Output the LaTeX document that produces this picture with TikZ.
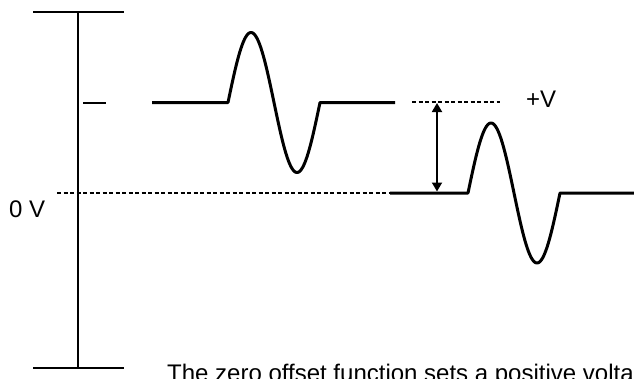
\documentclass[tikz,border=0pt]{standalone}
\usepackage{fontspec}
\setmainfont{Liberation Sans}
\usetikzlibrary{arrows.meta}

\begin{document}
\begin{tikzpicture}[
  x=1pt,y=-1pt,
  font=\fontsize{24}{28}\selectfont,
  axis/.style={line width=1.8pt},
  wave/.style={line width=3pt,line join=round},
  level/.style={line width=1.5pt,dash pattern=on 4pt off 2.5pt},
  span/.style={{Triangle[length=9pt,width=10pt]}-{Triangle[length=9pt,width=10pt]},line width=1.8pt},
  lbl/.style={anchor=base west,inner sep=0pt},
]
\useasboundingbox (0,0) rectangle (634,378);
\clip (0,0) rectangle (634,378);

% vertical scale
\coordinate (ttop) at (77.7,12.3);
\coordinate (tbot) at (77.7,368);
\draw[axis] (ttop) -- (tbot);
\draw[axis] (33,12.3) -- (124,12.3);
\draw[axis] (33,368) -- (124,368);
\draw[line width=2pt] (83,102.7) -- (106,102.7);

% reference levels
\draw[level] (412,102) -- (500,102);
\draw[level] (57,193) -- (390,193);

% pulse without offset (top)
\draw[wave] (152,102.5) -- (228,102.5)
  -- plot[domain=0:92,samples=80] ({228+\x},{102.5-70*sin(3.913043*\x)})
  -- (395,102.5);

% pulse with offset (bottom)
\draw[wave] (390,193) -- (468,193)
  -- plot[domain=0:92,samples=80] ({468+\x},{193-70*sin(3.913043*\x)})
  -- (640,193);

% offset span
\coordinate (vtop) at (437,103);
\coordinate (vbot) at (437,191.5);
\draw[span] (vtop) -- (vbot);

% labels
\node[lbl] (zero) at (9,217) {0 V};
\node[lbl] (plusv) at (526,107) {+V};
\node[lbl] (caption) at (167,381.5) {The zero offset function sets a positive volta};
\end{tikzpicture}
\end{document}
